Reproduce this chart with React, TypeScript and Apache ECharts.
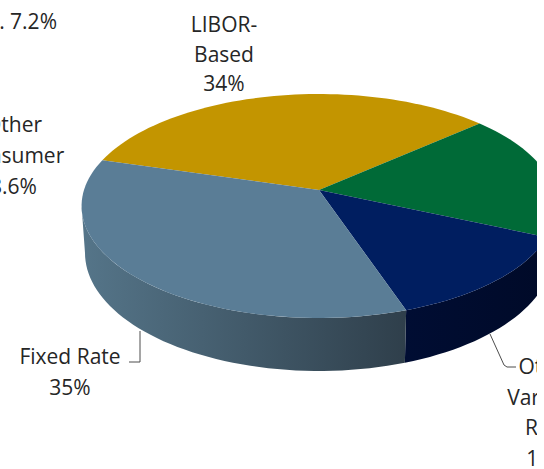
import React, { useEffect, useRef } from "react";
import * as echarts from "echarts";

const categories = ["LIBOR-Based", "Other Fixed", "Other Variable Rate", "Fixed Rate"];
const shares = [33.9, 18.2, 13.15, 34.75];
const topColors = ["#c39500", "#006a37", "#001e60", "#5a7d96"];
const wallColors = [
  ["#7d6000", "#7d6000"],
  ["#00421f", "#00421f"],
  ["#000d33", "#000a28"],
  ["#557589", "#2f3f4b"],
];
const libor = ["LIBOR-", "Based", "34%"];
const fixedRate = ["Fixed Rate", "35%"];
const otherVariable = ["Other", "Variable", "Rate", "13%"];
const otherConsumer = ["Other", "Consumer", "8.6%"];
const cutOff = ". 7.2%";

const startDeg = -163.6;
const persp = -0.1429;
const topDisc = { x: 319, y: 190, a: 235, b: 109.7 };
const baseDisc = { x: 319, y: 236, a: 231.6, b: 115.7 };
// Angles where the disc's outline is vertical: the wall is only seen between them.
const wallFrom = (Math.asin(-persp) * 180) / Math.PI;
const wallTo = 180 - wallFrom;

type Disc = typeof topDisc;
function rim(d: Disc, deg: number): [number, number] {
  const t = (deg * Math.PI) / 180;
  const c = Math.cos(t);
  const s = Math.sin(t);
  const w = 1 + persp * s;
  return [d.x + (d.a * c) / w, d.y + (d.b * s) / w];
}
function arcPoints(d: Disc, from: number, to: number) {
  const n = Math.max(4, Math.ceil(Math.abs(to - from) / 2));
  const out: [number, number][] = [];
  for (let i = 0; i <= n; i++) out.push(rim(d, from + ((to - from) * i) / n));
  return out;
}
function toPath(pts: [number, number][]) {
  return "M" + pts.map((p) => p[0].toFixed(2) + " " + p[1].toFixed(2)).join("L") + "Z";
}
function sliceRange(index: number) {
  const total = shares.reduce((a, b) => a + b, 0);
  let acc = 0;
  for (let i = 0; i < index; i++) acc += shares[i];
  const from = startDeg + (acc / total) * 360;
  return [from, from + (shares[index] / total) * 360];
}

const font = "'Open Sans', sans-serif";
function textLines(lines: string[], x: number, y0: number, lh: number) {
  return lines.map((t, i) => ({
    type: "text",
    x,
    y: y0 + i * lh,
    silent: true,
    style: {
      text: t,
      fill: "#262626",
      font: `21px ${font}`,
      textAlign: "center",
      textVerticalAlign: "middle",
    },
  }));
}

export default function App() {
  const ref = useRef<HTMLDivElement>(null);
  useEffect(() => {
    document.body.style.margin = "0";
    document.body.style.background = "#ffffff";
    const chart = echarts.init(ref.current!, null, { renderer: "svg" });
    const data = categories.map((name, i) => ({ name, value: shares[i] }));
    chart.setOption({
      animation: false,
      backgroundColor: "#ffffff",
      series: [
        {
          type: "custom",
          coordinateSystem: "none",
          silent: true,
          z: 1,
          data,
          renderItem: (params: any) => {
            const i = params.dataIndex;
            const [rawFrom, rawTo] = sliceRange(i);
            const from = Math.max(rawFrom, wallFrom);
            const to = Math.min(rawTo, wallTo);
            if (to <= from) return { type: "group", children: [] };
            const pts = [...arcPoints(topDisc, from, to), ...arcPoints(baseDisc, to, from)];
            return {
              type: "path",
              shape: { pathData: toPath(pts) },
              style: {
                fill: {
                  type: "linear",
                  x: 0,
                  y: 0,
                  x2: 1,
                  y2: 0,
                  colorStops: [
                    { offset: 0, color: wallColors[i][0] },
                    { offset: 1, color: wallColors[i][1] },
                  ],
                },
              },
            };
          },
        },
        {
          type: "custom",
          coordinateSystem: "none",
          silent: true,
          z: 2,
          data,
          renderItem: (params: any) => {
            const i = params.dataIndex;
            const [from, to] = sliceRange(i);
            const pts: [number, number][] = [[topDisc.x, topDisc.y], ...arcPoints(topDisc, from, to)];
            return {
              type: "path",
              shape: { pathData: toPath(pts) },
              style: { fill: topColors[i] },
            };
          },
        },
      ],
      graphic: [
        ...textLines(libor, 224, 24, 29.5),
        ...textLines(otherConsumer, 13.5, 123.5, 31),
        ...textLines(fixedRate, 70, 356, 30.5),
        ...textLines(otherVariable, 547, 366, 30.5),
        {
          type: "text",
          x: 57,
          y: 20.5,
          silent: true,
          style: {
            text: cutOff,
            fill: "#262626",
            font: `21px ${font}`,
            textAlign: "right",
            textVerticalAlign: "middle",
          },
        },
        {
          type: "polyline",
          silent: true,
          shape: { points: [[140, 331], [140, 362], [129, 362]] },
          style: { stroke: "#4d4d4d", lineWidth: 1, fill: "none" },
        },
        {
          type: "polyline",
          silent: true,
          shape: { points: [[490, 334], [504, 365], [507, 367], [516, 367]] },
          style: { stroke: "#4d4d4d", lineWidth: 1, fill: "none" },
        },
      ],
    });
    return () => chart.dispose();
  }, []);
  return <div ref={ref} style={{ width: 537, height: 469 }} />;
}
